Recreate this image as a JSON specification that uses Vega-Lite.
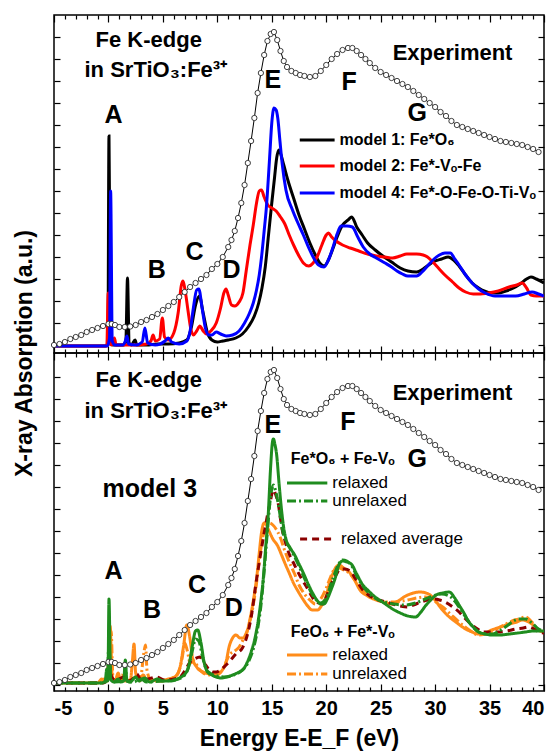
{
"$schema":"https://vega.github.io/schema/vega-lite/v6.json",
"autosize":{"type":"pad"},
"padding":{"left":12,"top":13,"right":16,"bottom":3},
"spacing":0,
"bounds":"flush",
"config":{"font":"Liberation Sans","view":{"stroke":"black","strokeWidth":1.5},"concat":{"spacing":0},
 "axis":{"domain":false,"grid":false,"labels":false,"tickColor":"black","tickWidth":1.2,"title":null}},
"datasets":{
"exp":[{"E":-5,"v":8},{"E":-4.5,"v":9},{"E":-4,"v":11},{"E":-3.5,"v":14},{"E":-3,"v":16},{"E":-2.5,"v":18},{"E":-2,"v":21},{"E":-1.5,"v":23},{"E":-1,"v":25},{"E":-0.5,"v":27},{"E":0,"v":29},{"E":0.3,"v":29},{"E":0.6,"v":28},{"E":1,"v":26},{"E":1.5,"v":26},{"E":2,"v":26.5},{"E":2.5,"v":28},{"E":3,"v":31},{"E":3.5,"v":33},{"E":4,"v":36},{"E":4.5,"v":39},{"E":5,"v":43},{"E":5.5,"v":47},{"E":6,"v":51},{"E":6.5,"v":56},{"E":7,"v":61},{"E":7.5,"v":66},{"E":8,"v":70},{"E":8.5,"v":74},{"E":9,"v":78},{"E":9.5,"v":84},{"E":10,"v":89},{"E":10.5,"v":96},{"E":11,"v":106},{"E":11.3,"v":113},{"E":11.6,"v":122},{"E":11.9,"v":135},{"E":12.2,"v":150},{"E":12.5,"v":168},{"E":12.8,"v":190},{"E":13.1,"v":212},{"E":13.4,"v":235},{"E":13.7,"v":260},{"E":14,"v":280},{"E":14.3,"v":298},{"E":14.6,"v":312},{"E":14.9,"v":319},{"E":15.2,"v":321},{"E":15.5,"v":313},{"E":15.8,"v":302},{"E":16.1,"v":292},{"E":16.4,"v":286},{"E":16.8,"v":282},{"E":17.2,"v":280},{"E":17.6,"v":278},{"E":18,"v":277},{"E":18.5,"v":276},{"E":19,"v":277},{"E":19.5,"v":282},{"E":20,"v":288},{"E":20.5,"v":294},{"E":21,"v":299},{"E":21.5,"v":303},{"E":22,"v":305},{"E":22.4,"v":305},{"E":22.8,"v":302},{"E":23.2,"v":298},{"E":23.6,"v":294},{"E":24,"v":290},{"E":24.5,"v":285},{"E":25,"v":281},{"E":25.5,"v":278},{"E":26,"v":275},{"E":26.5,"v":272},{"E":27,"v":269},{"E":27.5,"v":266},{"E":28,"v":262},{"E":28.5,"v":258},{"E":29,"v":254},{"E":29.5,"v":250},{"E":30,"v":246},{"E":30.5,"v":241},{"E":31,"v":237},{"E":31.5,"v":232},{"E":32,"v":228},{"E":32.5,"v":226},{"E":33,"v":224},{"E":33.5,"v":222},{"E":34,"v":220},{"E":34.5,"v":218},{"E":35,"v":216},{"E":35.5,"v":214},{"E":36,"v":212},{"E":36.5,"v":211},{"E":37,"v":210},{"E":37.5,"v":209},{"E":38,"v":208},{"E":38.5,"v":206},{"E":39,"v":204},{"E":39.5,"v":201}],
"top":[
{"s":"m1","E":-5,"v":7},{"s":"m1","E":-0.3,"v":7},{"s":"m1","E":-0.05,"v":10},{"s":"m1","E":0.05,"v":217},{"s":"m1","E":0.2,"v":10},{"s":"m1","E":0.4,"v":8},{"s":"m1","E":1.4,"v":8},{"s":"m1","E":1.6,"v":12},{"s":"m1","E":1.75,"v":75},{"s":"m1","E":1.9,"v":10},{"s":"m1","E":2.1,"v":8},{"s":"m1","E":2.45,"v":13},{"s":"m1","E":2.6,"v":8},{"s":"m1","E":3.5,"v":8},{"s":"m1","E":4.5,"v":9},{"s":"m1","E":5.5,"v":9},{"s":"m1","E":6.5,"v":10},{"s":"m1","E":7.2,"v":13},{"s":"m1","E":7.6,"v":25},{"s":"m1","E":8,"v":48},{"s":"m1","E":8.35,"v":57},{"s":"m1","E":8.7,"v":40},{"s":"m1","E":9.1,"v":20},{"s":"m1","E":9.5,"v":13},{"s":"m1","E":10,"v":11},{"s":"m1","E":10.5,"v":12},{"s":"m1","E":11,"v":13},{"s":"m1","E":11.7,"v":15},{"s":"m1","E":12.3,"v":19},{"s":"m1","E":12.9,"v":27},{"s":"m1","E":13.4,"v":37},{"s":"m1","E":13.8,"v":50},{"s":"m1","E":14.1,"v":65},{"s":"m1","E":14.4,"v":86},{"s":"m1","E":14.7,"v":118},{"s":"m1","E":15,"v":150},{"s":"m1","E":15.25,"v":175},{"s":"m1","E":15.45,"v":195},{"s":"m1","E":15.65,"v":203},{"s":"m1","E":15.85,"v":198},{"s":"m1","E":16.1,"v":188},{"s":"m1","E":16.5,"v":172},{"s":"m1","E":17,"v":155},{"s":"m1","E":17.5,"v":138},{"s":"m1","E":18,"v":124},{"s":"m1","E":18.5,"v":110},{"s":"m1","E":19,"v":98},{"s":"m1","E":19.4,"v":90},{"s":"m1","E":19.8,"v":87},{"s":"m1","E":20.2,"v":93},{"s":"m1","E":20.6,"v":104},{"s":"m1","E":21,"v":116},{"s":"m1","E":21.5,"v":128},{"s":"m1","E":22,"v":133},{"s":"m1","E":22.35,"v":136},{"s":"m1","E":22.8,"v":126},{"s":"m1","E":23.3,"v":118},{"s":"m1","E":23.8,"v":110},{"s":"m1","E":24.5,"v":103},{"s":"m1","E":25.2,"v":97},{"s":"m1","E":26,"v":91},{"s":"m1","E":26.8,"v":85},{"s":"m1","E":27.5,"v":82},{"s":"m1","E":28.3,"v":81},{"s":"m1","E":28.9,"v":84},{"s":"m1","E":29.4,"v":88},{"s":"m1","E":30,"v":92},{"s":"m1","E":30.6,"v":94},{"s":"m1","E":31.2,"v":96},{"s":"m1","E":31.7,"v":93},{"s":"m1","E":32.2,"v":87},{"s":"m1","E":32.8,"v":78},{"s":"m1","E":33.4,"v":70},{"s":"m1","E":34,"v":65},{"s":"m1","E":34.5,"v":62},{"s":"m1","E":35.2,"v":60},{"s":"m1","E":35.8,"v":60},{"s":"m1","E":36.5,"v":62},{"s":"m1","E":37.2,"v":65},{"s":"m1","E":37.8,"v":69},{"s":"m1","E":38.4,"v":74},{"s":"m1","E":38.8,"v":76},{"s":"m1","E":39.3,"v":74},{"s":"m1","E":40,"v":70},
{"s":"m2","E":-5,"v":7},{"s":"m2","E":-0.15,"v":7},{"s":"m2","E":-0.02,"v":60},{"s":"m2","E":0.1,"v":9},{"s":"m2","E":0.3,"v":8},{"s":"m2","E":0.55,"v":15},{"s":"m2","E":0.7,"v":8},{"s":"m2","E":1.5,"v":8},{"s":"m2","E":2.5,"v":8},{"s":"m2","E":3.5,"v":9},{"s":"m2","E":3.9,"v":12},{"s":"m2","E":4.1,"v":18},{"s":"m2","E":4.3,"v":12},{"s":"m2","E":4.7,"v":14},{"s":"m2","E":4.95,"v":35},{"s":"m2","E":5.15,"v":16},{"s":"m2","E":5.5,"v":13},{"s":"m2","E":6,"v":20},{"s":"m2","E":6.4,"v":40},{"s":"m2","E":6.7,"v":68},{"s":"m2","E":6.85,"v":72},{"s":"m2","E":7.05,"v":62},{"s":"m2","E":7.3,"v":43},{"s":"m2","E":7.55,"v":25},{"s":"m2","E":7.8,"v":18},{"s":"m2","E":8.1,"v":22},{"s":"m2","E":8.4,"v":27},{"s":"m2","E":8.7,"v":22},{"s":"m2","E":9,"v":19},{"s":"m2","E":9.4,"v":22},{"s":"m2","E":9.9,"v":30},{"s":"m2","E":10.3,"v":45},{"s":"m2","E":10.6,"v":60},{"s":"m2","E":10.8,"v":64},{"s":"m2","E":11,"v":58},{"s":"m2","E":11.3,"v":48},{"s":"m2","E":11.6,"v":47},{"s":"m2","E":12,"v":51},{"s":"m2","E":12.35,"v":60},{"s":"m2","E":12.65,"v":82},{"s":"m2","E":13,"v":108},{"s":"m2","E":13.3,"v":128},{"s":"m2","E":13.6,"v":150},{"s":"m2","E":13.85,"v":162},{"s":"m2","E":14.05,"v":163},{"s":"m2","E":14.3,"v":156},{"s":"m2","E":14.64,"v":148},{"s":"m2","E":15,"v":145},{"s":"m2","E":15.4,"v":142},{"s":"m2","E":15.8,"v":136},{"s":"m2","E":16.2,"v":129},{"s":"m2","E":16.6,"v":118},{"s":"m2","E":17,"v":108},{"s":"m2","E":17.5,"v":97},{"s":"m2","E":17.9,"v":90},{"s":"m2","E":18.4,"v":87},{"s":"m2","E":18.8,"v":90},{"s":"m2","E":19.2,"v":97},{"s":"m2","E":19.6,"v":108},{"s":"m2","E":20,"v":118},{"s":"m2","E":20.2,"v":120},{"s":"m2","E":20.5,"v":116},{"s":"m2","E":20.9,"v":112},{"s":"m2","E":21.5,"v":108},{"s":"m2","E":22.2,"v":105},{"s":"m2","E":23,"v":102},{"s":"m2","E":23.8,"v":99},{"s":"m2","E":24.6,"v":97},{"s":"m2","E":25.4,"v":96},{"s":"m2","E":26.1,"v":95},{"s":"m2","E":26.8,"v":97},{"s":"m2","E":27.4,"v":99},{"s":"m2","E":28.3,"v":99},{"s":"m2","E":28.9,"v":98},{"s":"m2","E":29.3,"v":96},{"s":"m2","E":29.8,"v":91},{"s":"m2","E":30.3,"v":85},{"s":"m2","E":30.9,"v":78},{"s":"m2","E":31.6,"v":71},{"s":"m2","E":32.2,"v":65},{"s":"m2","E":32.8,"v":61},{"s":"m2","E":33.5,"v":59},{"s":"m2","E":34,"v":59},{"s":"m2","E":34.9,"v":60},{"s":"m2","E":35.8,"v":62},{"s":"m2","E":36.8,"v":66},{"s":"m2","E":37.5,"v":68},{"s":"m2","E":38,"v":70},{"s":"m2","E":38.4,"v":65},{"s":"m2","E":38.8,"v":58},{"s":"m2","E":39.3,"v":57},{"s":"m2","E":40,"v":57},
{"s":"m4","E":-5,"v":7},{"s":"m4","E":-0.1,"v":7},{"s":"m4","E":0.1,"v":15},{"s":"m4","E":0.2,"v":162},{"s":"m4","E":0.35,"v":12},{"s":"m4","E":0.6,"v":8},{"s":"m4","E":1.3,"v":8},{"s":"m4","E":1.55,"v":12},{"s":"m4","E":1.7,"v":17},{"s":"m4","E":1.85,"v":9},{"s":"m4","E":2.5,"v":8},{"s":"m4","E":3.1,"v":11},{"s":"m4","E":3.35,"v":25},{"s":"m4","E":3.6,"v":10},{"s":"m4","E":4.3,"v":8},{"s":"m4","E":5.2,"v":12},{"s":"m4","E":5.5,"v":15},{"s":"m4","E":5.8,"v":11},{"s":"m4","E":6.5,"v":9},{"s":"m4","E":7.2,"v":12},{"s":"m4","E":7.5,"v":22},{"s":"m4","E":7.8,"v":45},{"s":"m4","E":8.1,"v":63},{"s":"m4","E":8.3,"v":64},{"s":"m4","E":8.6,"v":45},{"s":"m4","E":8.9,"v":25},{"s":"m4","E":9.2,"v":18},{"s":"m4","E":9.5,"v":18},{"s":"m4","E":9.9,"v":21},{"s":"m4","E":10.3,"v":19},{"s":"m4","E":10.8,"v":17},{"s":"m4","E":11.4,"v":18},{"s":"m4","E":12,"v":22},{"s":"m4","E":12.5,"v":30},{"s":"m4","E":12.96,"v":40},{"s":"m4","E":13.3,"v":50},{"s":"m4","E":13.6,"v":63},{"s":"m4","E":13.85,"v":78},{"s":"m4","E":14.05,"v":95},{"s":"m4","E":14.3,"v":122},{"s":"m4","E":14.5,"v":145},{"s":"m4","E":14.8,"v":195},{"s":"m4","E":15,"v":230},{"s":"m4","E":15.2,"v":245},{"s":"m4","E":15.4,"v":243},{"s":"m4","E":15.55,"v":235},{"s":"m4","E":15.75,"v":212},{"s":"m4","E":15.95,"v":190},{"s":"m4","E":16.3,"v":163},{"s":"m4","E":16.9,"v":143},{"s":"m4","E":17.4,"v":130},{"s":"m4","E":17.9,"v":118},{"s":"m4","E":18.4,"v":105},{"s":"m4","E":18.9,"v":94},{"s":"m4","E":19.3,"v":88},{"s":"m4","E":19.8,"v":86},{"s":"m4","E":20.2,"v":93},{"s":"m4","E":20.6,"v":105},{"s":"m4","E":21,"v":119},{"s":"m4","E":21.35,"v":127},{"s":"m4","E":21.9,"v":127},{"s":"m4","E":22.4,"v":126},{"s":"m4","E":22.9,"v":116},{"s":"m4","E":23.4,"v":106},{"s":"m4","E":24,"v":99},{"s":"m4","E":24.6,"v":95},{"s":"m4","E":25.4,"v":90},{"s":"m4","E":26,"v":86},{"s":"m4","E":26.5,"v":82},{"s":"m4","E":27,"v":79},{"s":"m4","E":27.5,"v":77},{"s":"m4","E":28.3,"v":77},{"s":"m4","E":28.8,"v":81},{"s":"m4","E":29.3,"v":87},{"s":"m4","E":29.9,"v":94},{"s":"m4","E":30.4,"v":98},{"s":"m4","E":30.9,"v":100},{"s":"m4","E":31.4,"v":100},{"s":"m4","E":31.8,"v":94},{"s":"m4","E":32.2,"v":88},{"s":"m4","E":32.8,"v":78},{"s":"m4","E":33.4,"v":70},{"s":"m4","E":34,"v":64},{"s":"m4","E":34.6,"v":60},{"s":"m4","E":35.5,"v":57},{"s":"m4","E":36.5,"v":57},{"s":"m4","E":37.4,"v":57},{"s":"m4","E":38.2,"v":59},{"s":"m4","E":38.9,"v":61},{"s":"m4","E":39.5,"v":59},{"s":"m4","E":40,"v":57}],
"bot":[
{"s":"o_rel","E":-5,"v":8},{"s":"o_rel","E":-1,"v":8},{"s":"o_rel","E":-0.6,"v":12},{"s":"o_rel","E":-0.4,"v":9},{"s":"o_rel","E":-0.05,"v":20},{"s":"o_rel","E":0.15,"v":65},{"s":"o_rel","E":0.35,"v":14},{"s":"o_rel","E":0.6,"v":10},{"s":"o_rel","E":0.9,"v":18},{"s":"o_rel","E":1.1,"v":10},{"s":"o_rel","E":1.5,"v":12},{"s":"o_rel","E":2,"v":10},{"s":"o_rel","E":2.2,"v":30},{"s":"o_rel","E":2.35,"v":47},{"s":"o_rel","E":2.5,"v":18},{"s":"o_rel","E":2.8,"v":12},{"s":"o_rel","E":3.2,"v":16},{"s":"o_rel","E":3.5,"v":11},{"s":"o_rel","E":4,"v":11},{"s":"o_rel","E":4.8,"v":10},{"s":"o_rel","E":5.5,"v":12},{"s":"o_rel","E":6.2,"v":15},{"s":"o_rel","E":6.6,"v":25},{"s":"o_rel","E":6.9,"v":45},{"s":"o_rel","E":7.2,"v":66},{"s":"o_rel","E":7.45,"v":55},{"s":"o_rel","E":7.75,"v":32},{"s":"o_rel","E":8.1,"v":24},{"s":"o_rel","E":8.7,"v":19},{"s":"o_rel","E":9.3,"v":17},{"s":"o_rel","E":9.9,"v":16},{"s":"o_rel","E":10.4,"v":20},{"s":"o_rel","E":10.8,"v":29},{"s":"o_rel","E":11.1,"v":45},{"s":"o_rel","E":11.35,"v":52},{"s":"o_rel","E":11.7,"v":56},{"s":"o_rel","E":12.1,"v":53},{"s":"o_rel","E":12.4,"v":53},{"s":"o_rel","E":12.7,"v":58},{"s":"o_rel","E":13,"v":72},{"s":"o_rel","E":13.3,"v":90},{"s":"o_rel","E":13.6,"v":112},{"s":"o_rel","E":13.85,"v":138},{"s":"o_rel","E":14.05,"v":158},{"s":"o_rel","E":14.3,"v":168},{"s":"o_rel","E":14.5,"v":166},{"s":"o_rel","E":14.75,"v":160},{"s":"o_rel","E":15.1,"v":152},{"s":"o_rel","E":15.55,"v":145},{"s":"o_rel","E":15.9,"v":136},{"s":"o_rel","E":16.2,"v":128},{"s":"o_rel","E":16.6,"v":118},{"s":"o_rel","E":16.95,"v":109},{"s":"o_rel","E":17.4,"v":100},{"s":"o_rel","E":17.85,"v":92},{"s":"o_rel","E":18.3,"v":85},{"s":"o_rel","E":18.7,"v":81},{"s":"o_rel","E":19.2,"v":81},{"s":"o_rel","E":19.6,"v":86},{"s":"o_rel","E":20,"v":95},{"s":"o_rel","E":20.3,"v":108},{"s":"o_rel","E":20.6,"v":117},{"s":"o_rel","E":20.9,"v":124},{"s":"o_rel","E":21.2,"v":126},{"s":"o_rel","E":21.6,"v":123},{"s":"o_rel","E":22.1,"v":119},{"s":"o_rel","E":22.6,"v":111},{"s":"o_rel","E":23.1,"v":101},{"s":"o_rel","E":23.8,"v":95},{"s":"o_rel","E":24.6,"v":91},{"s":"o_rel","E":25.3,"v":89},{"s":"o_rel","E":26,"v":87},{"s":"o_rel","E":26.6,"v":90},{"s":"o_rel","E":27.3,"v":95},{"s":"o_rel","E":28,"v":98},{"s":"o_rel","E":28.6,"v":99},{"s":"o_rel","E":29.4,"v":97},{"s":"o_rel","E":29.9,"v":92},{"s":"o_rel","E":30.6,"v":82},{"s":"o_rel","E":31.2,"v":75},{"s":"o_rel","E":31.9,"v":69},{"s":"o_rel","E":32.8,"v":62},{"s":"o_rel","E":33.4,"v":59},{"s":"o_rel","E":34,"v":57},{"s":"o_rel","E":34.6,"v":58},{"s":"o_rel","E":35.2,"v":61},{"s":"o_rel","E":36,"v":64},{"s":"o_rel","E":36.8,"v":67},{"s":"o_rel","E":37.5,"v":69},{"s":"o_rel","E":38,"v":71},{"s":"o_rel","E":38.6,"v":69},{"s":"o_rel","E":39,"v":66},{"s":"o_rel","E":39.5,"v":61},{"s":"o_rel","E":40,"v":59},
{"s":"o_unrel","E":-5,"v":8},{"s":"o_unrel","E":-0.8,"v":8},{"s":"o_unrel","E":-0.4,"v":12},{"s":"o_unrel","E":-0.1,"v":10},{"s":"o_unrel","E":0.1,"v":35},{"s":"o_unrel","E":0.25,"v":60},{"s":"o_unrel","E":0.4,"v":16},{"s":"o_unrel","E":0.7,"v":10},{"s":"o_unrel","E":1.2,"v":16},{"s":"o_unrel","E":1.5,"v":10},{"s":"o_unrel","E":2,"v":11},{"s":"o_unrel","E":2.5,"v":14},{"s":"o_unrel","E":2.9,"v":10},{"s":"o_unrel","E":3.25,"v":38},{"s":"o_unrel","E":3.4,"v":46},{"s":"o_unrel","E":3.55,"v":20},{"s":"o_unrel","E":3.9,"v":11},{"s":"o_unrel","E":4.5,"v":10},{"s":"o_unrel","E":5.2,"v":11},{"s":"o_unrel","E":5.9,"v":13},{"s":"o_unrel","E":6.4,"v":18},{"s":"o_unrel","E":6.8,"v":35},{"s":"o_unrel","E":7,"v":48},{"s":"o_unrel","E":7.25,"v":40},{"s":"o_unrel","E":7.5,"v":28},{"s":"o_unrel","E":7.9,"v":30},{"s":"o_unrel","E":8.2,"v":24},{"s":"o_unrel","E":8.7,"v":18},{"s":"o_unrel","E":9.3,"v":16},{"s":"o_unrel","E":10,"v":17},{"s":"o_unrel","E":10.6,"v":24},{"s":"o_unrel","E":11.1,"v":36},{"s":"o_unrel","E":11.6,"v":40},{"s":"o_unrel","E":12,"v":44},{"s":"o_unrel","E":12.35,"v":51},{"s":"o_unrel","E":12.8,"v":62},{"s":"o_unrel","E":13.2,"v":80},{"s":"o_unrel","E":13.6,"v":108},{"s":"o_unrel","E":13.9,"v":135},{"s":"o_unrel","E":14.2,"v":155},{"s":"o_unrel","E":14.5,"v":164},{"s":"o_unrel","E":14.8,"v":168},{"s":"o_unrel","E":15.1,"v":166},{"s":"o_unrel","E":15.5,"v":160},{"s":"o_unrel","E":15.8,"v":153},{"s":"o_unrel","E":16.2,"v":140},{"s":"o_unrel","E":16.6,"v":129},{"s":"o_unrel","E":17.1,"v":117},{"s":"o_unrel","E":17.5,"v":106},{"s":"o_unrel","E":18,"v":97},{"s":"o_unrel","E":18.5,"v":91},{"s":"o_unrel","E":19,"v":87},{"s":"o_unrel","E":19.5,"v":92},{"s":"o_unrel","E":19.97,"v":102},{"s":"o_unrel","E":20.4,"v":114},{"s":"o_unrel","E":20.8,"v":122},{"s":"o_unrel","E":21.2,"v":123},{"s":"o_unrel","E":21.6,"v":121},{"s":"o_unrel","E":22.1,"v":118},{"s":"o_unrel","E":22.7,"v":110},{"s":"o_unrel","E":23.3,"v":101},{"s":"o_unrel","E":24,"v":95},{"s":"o_unrel","E":24.7,"v":91},{"s":"o_unrel","E":25.5,"v":89},{"s":"o_unrel","E":26.3,"v":89},{"s":"o_unrel","E":27,"v":90},{"s":"o_unrel","E":27.5,"v":91},{"s":"o_unrel","E":28.3,"v":93},{"s":"o_unrel","E":29.1,"v":94},{"s":"o_unrel","E":29.7,"v":92},{"s":"o_unrel","E":30.3,"v":87},{"s":"o_unrel","E":30.7,"v":84},{"s":"o_unrel","E":31.4,"v":77},{"s":"o_unrel","E":32.2,"v":69},{"s":"o_unrel","E":33,"v":62},{"s":"o_unrel","E":34,"v":56},{"s":"o_unrel","E":34.9,"v":58},{"s":"o_unrel","E":35.8,"v":63},{"s":"o_unrel","E":36.7,"v":68},{"s":"o_unrel","E":37.3,"v":71},{"s":"o_unrel","E":37.7,"v":72},{"s":"o_unrel","E":38.3,"v":74},{"s":"o_unrel","E":38.8,"v":70},{"s":"o_unrel","E":39.5,"v":61},{"s":"o_unrel","E":40,"v":59},
{"s":"avg","E":-5,"v":8},{"s":"avg","E":-0.5,"v":8},{"s":"avg","E":-0.15,"v":12},{"s":"avg","E":0.05,"v":29},{"s":"avg","E":0.3,"v":14},{"s":"avg","E":0.7,"v":10},{"s":"avg","E":1,"v":12},{"s":"avg","E":1.4,"v":14},{"s":"avg","E":1.8,"v":10},{"s":"avg","E":2.3,"v":13},{"s":"avg","E":2.6,"v":17},{"s":"avg","E":3,"v":11},{"s":"avg","E":3.6,"v":12},{"s":"avg","E":4.4,"v":14},{"s":"avg","E":5.2,"v":11},{"s":"avg","E":6,"v":12},{"s":"avg","E":6.6,"v":14},{"s":"avg","E":7,"v":20},{"s":"avg","E":7.5,"v":29},{"s":"avg","E":7.9,"v":32},{"s":"avg","E":8.4,"v":34},{"s":"avg","E":8.8,"v":28},{"s":"avg","E":9.2,"v":22},{"s":"avg","E":9.6,"v":19},{"s":"avg","E":9.9,"v":19},{"s":"avg","E":10.4,"v":22},{"s":"avg","E":10.8,"v":26},{"s":"avg","E":11.3,"v":32},{"s":"avg","E":11.7,"v":37},{"s":"avg","E":12.3,"v":43},{"s":"avg","E":12.8,"v":58},{"s":"avg","E":13.2,"v":80},{"s":"avg","E":13.5,"v":104},{"s":"avg","E":13.9,"v":132},{"s":"avg","E":14.3,"v":158},{"s":"avg","E":14.8,"v":186},{"s":"avg","E":15.15,"v":201},{"s":"avg","E":15.4,"v":195},{"s":"avg","E":15.6,"v":187},{"s":"avg","E":15.8,"v":172},{"s":"avg","E":16,"v":159},{"s":"avg","E":16.3,"v":147},{"s":"avg","E":16.6,"v":137},{"s":"avg","E":17,"v":128},{"s":"avg","E":17.4,"v":119},{"s":"avg","E":17.8,"v":111},{"s":"avg","E":18.2,"v":104},{"s":"avg","E":18.6,"v":96},{"s":"avg","E":18.9,"v":91},{"s":"avg","E":19.3,"v":88},{"s":"avg","E":19.7,"v":87},{"s":"avg","E":20.1,"v":97},{"s":"avg","E":20.5,"v":108},{"s":"avg","E":20.9,"v":116},{"s":"avg","E":21.3,"v":122},{"s":"avg","E":21.7,"v":122},{"s":"avg","E":22.2,"v":120},{"s":"avg","E":22.7,"v":112},{"s":"avg","E":23.3,"v":102},{"s":"avg","E":23.9,"v":96},{"s":"avg","E":24.8,"v":91},{"s":"avg","E":25.5,"v":89},{"s":"avg","E":26.1,"v":87},{"s":"avg","E":26.8,"v":85},{"s":"avg","E":27.4,"v":84},{"s":"avg","E":28,"v":86},{"s":"avg","E":28.7,"v":89},{"s":"avg","E":29.3,"v":91},{"s":"avg","E":29.8,"v":92},{"s":"avg","E":30.4,"v":91},{"s":"avg","E":30.9,"v":89},{"s":"avg","E":31.5,"v":85},{"s":"avg","E":32.2,"v":79},{"s":"avg","E":32.8,"v":72},{"s":"avg","E":33.4,"v":66},{"s":"avg","E":33.9,"v":62},{"s":"avg","E":34.4,"v":59},{"s":"avg","E":35.1,"v":59},{"s":"avg","E":35.8,"v":59},{"s":"avg","E":36.6,"v":60},{"s":"avg","E":37.4,"v":62},{"s":"avg","E":38.1,"v":63},{"s":"avg","E":38.6,"v":64},{"s":"avg","E":39.1,"v":62},{"s":"avg","E":39.5,"v":59},{"s":"avg","E":40,"v":58},
{"s":"g_unrel","E":-5,"v":8},{"s":"g_unrel","E":-0.4,"v":8},{"s":"g_unrel","E":-0.1,"v":14},{"s":"g_unrel","E":0.05,"v":50},{"s":"g_unrel","E":0.2,"v":12},{"s":"g_unrel","E":0.5,"v":9},{"s":"g_unrel","E":1.4,"v":10},{"s":"g_unrel","E":1.55,"v":24},{"s":"g_unrel","E":1.7,"v":10},{"s":"g_unrel","E":2.3,"v":9},{"s":"g_unrel","E":3,"v":12},{"s":"g_unrel","E":3.5,"v":9},{"s":"g_unrel","E":5,"v":10},{"s":"g_unrel","E":6,"v":11},{"s":"g_unrel","E":6.8,"v":14},{"s":"g_unrel","E":7.3,"v":22},{"s":"g_unrel","E":7.7,"v":40},{"s":"g_unrel","E":8,"v":52},{"s":"g_unrel","E":8.3,"v":50},{"s":"g_unrel","E":8.6,"v":36},{"s":"g_unrel","E":8.9,"v":24},{"s":"g_unrel","E":9.3,"v":18},{"s":"g_unrel","E":10,"v":15},{"s":"g_unrel","E":10.8,"v":14},{"s":"g_unrel","E":11.5,"v":16},{"s":"g_unrel","E":12.2,"v":20},{"s":"g_unrel","E":12.8,"v":28},{"s":"g_unrel","E":13.3,"v":42},{"s":"g_unrel","E":13.7,"v":62},{"s":"g_unrel","E":14,"v":85},{"s":"g_unrel","E":14.3,"v":120},{"s":"g_unrel","E":14.6,"v":160},{"s":"g_unrel","E":14.9,"v":195},{"s":"g_unrel","E":15.15,"v":206},{"s":"g_unrel","E":15.4,"v":198},{"s":"g_unrel","E":15.7,"v":180},{"s":"g_unrel","E":16,"v":160},{"s":"g_unrel","E":16.3,"v":150},{"s":"g_unrel","E":16.7,"v":142},{"s":"g_unrel","E":17.2,"v":132},{"s":"g_unrel","E":17.7,"v":120},{"s":"g_unrel","E":18.2,"v":108},{"s":"g_unrel","E":18.7,"v":97},{"s":"g_unrel","E":19.1,"v":91},{"s":"g_unrel","E":19.5,"v":88},{"s":"g_unrel","E":19.9,"v":91},{"s":"g_unrel","E":20.3,"v":102},{"s":"g_unrel","E":20.7,"v":115},{"s":"g_unrel","E":21.1,"v":126},{"s":"g_unrel","E":21.5,"v":131},{"s":"g_unrel","E":21.9,"v":130},{"s":"g_unrel","E":22.4,"v":124},{"s":"g_unrel","E":22.9,"v":113},{"s":"g_unrel","E":23.5,"v":103},{"s":"g_unrel","E":24,"v":97},{"s":"g_unrel","E":24.6,"v":92},{"s":"g_unrel","E":25.3,"v":89},{"s":"g_unrel","E":26.2,"v":87},{"s":"g_unrel","E":27.3,"v":86},{"s":"g_unrel","E":28.2,"v":88},{"s":"g_unrel","E":29.1,"v":92},{"s":"g_unrel","E":29.8,"v":95},{"s":"g_unrel","E":30.6,"v":97},{"s":"g_unrel","E":31.3,"v":95},{"s":"g_unrel","E":31.8,"v":90},{"s":"g_unrel","E":32.2,"v":84},{"s":"g_unrel","E":32.8,"v":74},{"s":"g_unrel","E":33.4,"v":65},{"s":"g_unrel","E":34,"v":59},{"s":"g_unrel","E":34.7,"v":57},{"s":"g_unrel","E":35.3,"v":57},{"s":"g_unrel","E":35.9,"v":60},{"s":"g_unrel","E":36.7,"v":66},{"s":"g_unrel","E":37.2,"v":70},{"s":"g_unrel","E":37.7,"v":72},{"s":"g_unrel","E":38.3,"v":72},{"s":"g_unrel","E":38.9,"v":68},{"s":"g_unrel","E":39.5,"v":62},{"s":"g_unrel","E":40,"v":60},
{"s":"g_rel","E":-5,"v":8},{"s":"g_rel","E":-0.6,"v":8},{"s":"g_rel","E":-0.3,"v":10},{"s":"g_rel","E":-0.15,"v":22},{"s":"g_rel","E":-0.05,"v":10},{"s":"g_rel","E":0.05,"v":92},{"s":"g_rel","E":0.2,"v":12},{"s":"g_rel","E":0.5,"v":9},{"s":"g_rel","E":0.9,"v":12},{"s":"g_rel","E":1.1,"v":9},{"s":"g_rel","E":1.4,"v":10},{"s":"g_rel","E":1.55,"v":31},{"s":"g_rel","E":1.7,"v":10},{"s":"g_rel","E":2,"v":9},{"s":"g_rel","E":2.5,"v":14},{"s":"g_rel","E":2.8,"v":10},{"s":"g_rel","E":3.3,"v":13},{"s":"g_rel","E":3.8,"v":9},{"s":"g_rel","E":4.5,"v":12},{"s":"g_rel","E":5,"v":10},{"s":"g_rel","E":5.7,"v":10},{"s":"g_rel","E":6.5,"v":13},{"s":"g_rel","E":7.1,"v":18},{"s":"g_rel","E":7.4,"v":26},{"s":"g_rel","E":7.7,"v":45},{"s":"g_rel","E":8,"v":60},{"s":"g_rel","E":8.2,"v":61},{"s":"g_rel","E":8.5,"v":48},{"s":"g_rel","E":8.8,"v":28},{"s":"g_rel","E":9.1,"v":19},{"s":"g_rel","E":9.5,"v":16},{"s":"g_rel","E":9.9,"v":14},{"s":"g_rel","E":10.4,"v":13},{"s":"g_rel","E":10.8,"v":14},{"s":"g_rel","E":11.4,"v":16},{"s":"g_rel","E":12,"v":19},{"s":"g_rel","E":12.4,"v":22},{"s":"g_rel","E":12.8,"v":30},{"s":"g_rel","E":13.1,"v":39},{"s":"g_rel","E":13.5,"v":55},{"s":"g_rel","E":13.75,"v":70},{"s":"g_rel","E":14,"v":90},{"s":"g_rel","E":14.2,"v":110},{"s":"g_rel","E":14.45,"v":145},{"s":"g_rel","E":14.65,"v":172},{"s":"g_rel","E":14.9,"v":225},{"s":"g_rel","E":15.05,"v":248},{"s":"g_rel","E":15.15,"v":252},{"s":"g_rel","E":15.3,"v":246},{"s":"g_rel","E":15.45,"v":236},{"s":"g_rel","E":15.65,"v":210},{"s":"g_rel","E":15.85,"v":186},{"s":"g_rel","E":16.1,"v":163},{"s":"g_rel","E":16.3,"v":152},{"s":"g_rel","E":16.7,"v":143},{"s":"g_rel","E":17.1,"v":136},{"s":"g_rel","E":17.5,"v":127},{"s":"g_rel","E":17.9,"v":118},{"s":"g_rel","E":18.3,"v":108},{"s":"g_rel","E":18.8,"v":97},{"s":"g_rel","E":19.2,"v":90},{"s":"g_rel","E":19.5,"v":87},{"s":"g_rel","E":19.8,"v":87},{"s":"g_rel","E":20.1,"v":92},{"s":"g_rel","E":20.4,"v":100},{"s":"g_rel","E":20.8,"v":112},{"s":"g_rel","E":21.2,"v":127},{"s":"g_rel","E":21.5,"v":130},{"s":"g_rel","E":21.9,"v":129},{"s":"g_rel","E":22.3,"v":127},{"s":"g_rel","E":22.8,"v":117},{"s":"g_rel","E":23.3,"v":107},{"s":"g_rel","E":23.9,"v":100},{"s":"g_rel","E":24.5,"v":94},{"s":"g_rel","E":25.3,"v":88},{"s":"g_rel","E":26.1,"v":82},{"s":"g_rel","E":26.8,"v":78},{"s":"g_rel","E":27.5,"v":75},{"s":"g_rel","E":28.2,"v":74},{"s":"g_rel","E":28.7,"v":79},{"s":"g_rel","E":29.1,"v":85},{"s":"g_rel","E":29.6,"v":91},{"s":"g_rel","E":30.1,"v":96},{"s":"g_rel","E":30.7,"v":98},{"s":"g_rel","E":31.3,"v":99},{"s":"g_rel","E":31.8,"v":93},{"s":"g_rel","E":32.2,"v":86},{"s":"g_rel","E":32.7,"v":77},{"s":"g_rel","E":33.1,"v":69},{"s":"g_rel","E":33.6,"v":63},{"s":"g_rel","E":34,"v":59},{"s":"g_rel","E":34.6,"v":57},{"s":"g_rel","E":35.2,"v":56},{"s":"g_rel","E":36,"v":56},{"s":"g_rel","E":36.8,"v":57},{"s":"g_rel","E":37.6,"v":58},{"s":"g_rel","E":38.3,"v":59},{"s":"g_rel","E":39,"v":60},{"s":"g_rel","E":40,"v":60}],
"topleg":[{"s":"m1","x1":17.57,"x2":20.77,"y":213,"t":"model 1: Fe*O₆"},{"s":"m2","x1":17.57,"x2":20.77,"y":187,"t":"model 2: Fe*-Vₒ-Fe"},{"s":"m4","x1":17.57,"x2":20.77,"y":160,"t":"model 4: Fe*-O-Fe-O-Ti-Vₒ"}],
"botleg":[{"s":"g_rel","x1":16.4,"x2":20.1,"y":208,"t":"relaxed"},{"s":"g_unrel","x1":16.4,"x2":20.1,"y":190,"t":"unrelaxed"},{"s":"avg","x1":17.6,"x2":20.9,"y":152,"t":"relaxed average"},{"s":"o_rel","x1":16.4,"x2":20.1,"y":36,"t":"relaxed"},{"s":"o_unrel","x1":16.4,"x2":20.1,"y":17,"t":"unrelaxed"}]
},
"resolve":{"scale":{"color":"independent","strokeDash":"independent"}},
"vconcat":[
{"width":490,"height":338,
 "resolve":{"axis":{"x":"independent","y":"independent"}},
 "layer":[
  {"data":{"name":"exp"},"mark":{"type":"line","color":"black","strokeWidth":1},
   "encoding":{"x":{"field":"E","type":"quantitative","scale":{"domain":[-5,40],"nice":false,"zero":false},"axis":{"orient":"bottom","values":[-5,0,5,10,15,20,25,30,35,40],"tickSize":-7}},
    "y":{"field":"v","type":"quantitative","scale":{"domain":[0,338],"nice":false,"zero":false},"axis":{"orient":"left","values":[8,30,52,74,96,118,140,162,184,206,228,250,272,294,316],"tickSize":-6,"title":"X-ray Absorption (a.u.)","titleX":-30,"titleY":338,"titleAngle":270,"titleAlign":"center","titleBaseline":"middle","titleFontSize":23,"titleFontWeight":"bold","titleColor":"black"}}}},
  {"data":{"name":"top"},"mark":{"type":"line","strokeWidth":3,"interpolate":"monotone","clip":true},
   "encoding":{"x":{"field":"E","type":"quantitative","axis":{"orient":"bottom","values":[-4,-3,-2,-1,1,2,3,4,6,7,8,9,11,12,13,14,16,17,18,19,21,22,23,24,26,27,28,29,31,32,33,34,36,37,38,39],"tickSize":-4}},
    "y":{"field":"v","type":"quantitative","axis":null},
    "color":{"field":"s","type":"nominal","scale":{"domain":["m1","m2","m4"],"range":["#000000","#ff0000","#0000ff"]},"legend":null}}},
  {"data":{"name":"exp"},"mark":{"type":"point","filled":true,"fill":"white","stroke":"#111111","strokeWidth":0.8,"size":28,"opacity":1},
   "encoding":{"x":{"field":"E","type":"quantitative","axis":{"orient":"top","values":[-5,0,5,10,15,20,25,30,35,40],"tickSize":-7}},
    "y":{"field":"v","type":"quantitative","axis":{"orient":"right","values":[8,30,52,74,96,118,140,162,184,206,228,250,272,294,316],"tickSize":-6}}}},
  {"data":{"name":"topleg"},"mark":{"type":"rule","strokeWidth":3},
   "encoding":{"x":{"field":"x1","type":"quantitative","axis":{"orient":"top","values":[-4,-3,-2,-1,1,2,3,4,6,7,8,9,11,12,13,14,16,17,18,19,21,22,23,24,26,27,28,29,31,32,33,34,36,37,38,39],"tickSize":-4}},"x2":{"field":"x2"},
    "y":{"field":"y","type":"quantitative","axis":null},
    "color":{"field":"s","type":"nominal","legend":null}}},
  {"data":{"name":"topleg"},"mark":{"type":"text","align":"left","baseline":"middle","fontSize":16,"fontWeight":"bold","color":"black","dx":5},
   "encoding":{"x":{"field":"x2","type":"quantitative","axis":null},"y":{"field":"y","type":"quantitative","axis":null},"text":{"field":"t"}}},
  {"data":{"values":[{"E":0.46,"v":238,"t":"A"},{"E":4.44,"v":83,"t":"B"},{"E":7.9,"v":101,"t":"C"},{"E":11.3,"v":83,"t":"D"},{"E":15.1,"v":273,"t":"E"},{"E":22.1,"v":271,"t":"F"},{"E":28.36,"v":240,"t":"G"}]},
   "mark":{"type":"text","align":"center","baseline":"middle","fontSize":25,"fontWeight":"bold","color":"black"},
   "encoding":{"x":{"field":"E","type":"quantitative","axis":null},"y":{"field":"v","type":"quantitative","axis":null},"text":{"field":"t"}}},
  {"data":{"values":[{"E":3.7,"v":313,"t":"Fe K-edge"},{"E":4.35,"v":283,"t":"in SrTiO₃:Fe³⁺"},{"E":31.6,"v":300,"t":"Experiment"}]},
   "mark":{"type":"text","align":"center","baseline":"middle","fontSize":22,"fontWeight":"bold","color":"black"},
   "encoding":{"x":{"field":"E","type":"quantitative","axis":null},"y":{"field":"v","type":"quantitative","axis":null},"text":{"field":"t"}}}
 ]},
{"width":490,"height":338,
 "resolve":{"axis":{"x":"independent","y":"independent"}},
 "layer":[
  {"data":{"name":"exp"},"mark":{"type":"line","color":"black","strokeWidth":1},
   "encoding":{"x":{"field":"E","type":"quantitative","scale":{"domain":[-5,40],"nice":false,"zero":false},"axis":{"orient":"bottom","values":[-5,0,5,10,15,20,25,30,35,40],"tickSize":-7,"labels":true,"labelExpr":"'' + datum.value","labelFontSize":20,"labelFontWeight":"bold","labelColor":"black","labelPadding":14,"title":"Energy E-E_F (eV)","titleFontSize":23,"titleFontWeight":"bold","titleColor":"black","titlePadding":9}},
    "y":{"field":"v","type":"quantitative","scale":{"domain":[0,338],"nice":false,"zero":false},"axis":{"orient":"left","values":[6,28,50,72,94,116,138,160,182,204,226,248,270,292,314],"tickSize":-6}}}},
  {"data":{"name":"bot"},"mark":{"type":"line","strokeWidth":3,"interpolate":"monotone","clip":true},
   "encoding":{"x":{"field":"E","type":"quantitative","axis":{"orient":"bottom","values":[-4,-3,-2,-1,1,2,3,4,6,7,8,9,11,12,13,14,16,17,18,19,21,22,23,24,26,27,28,29,31,32,33,34,36,37,38,39],"tickSize":-4}},
    "y":{"field":"v","type":"quantitative","axis":null},
    "color":{"field":"s","type":"nominal","scale":{"domain":["g_rel","g_unrel","avg","o_rel","o_unrel"],"range":["#1f8c1f","#1f8c1f","#8b0000","#ff8c1a","#ff8c1a"]},"legend":null},
    "strokeDash":{"field":"s","type":"nominal","scale":{"domain":["g_rel","g_unrel","avg","o_rel","o_unrel"],"range":[[1,0],[9,3,2,3],[7,5],[1,0],[9,3,2,3]]},"legend":null}}},
  {"data":{"name":"exp"},"mark":{"type":"point","filled":true,"fill":"white","stroke":"#111111","strokeWidth":0.8,"size":28,"opacity":1},
   "encoding":{"x":{"field":"E","type":"quantitative","axis":{"orient":"top","values":[-5,0,5,10,15,20,25,30,35,40],"tickSize":-7}},
    "y":{"field":"v","type":"quantitative","axis":{"orient":"right","values":[6,28,50,72,94,116,138,160,182,204,226,248,270,292,314],"tickSize":-6}}}},
  {"data":{"name":"botleg"},"mark":{"type":"rule","strokeWidth":3},
   "encoding":{"x":{"field":"x1","type":"quantitative","axis":{"orient":"top","values":[-4,-3,-2,-1,1,2,3,4,6,7,8,9,11,12,13,14,16,17,18,19,21,22,23,24,26,27,28,29,31,32,33,34,36,37,38,39],"tickSize":-4}},"x2":{"field":"x2"},
    "y":{"field":"y","type":"quantitative","axis":null},
    "color":{"field":"s","type":"nominal","legend":null},
    "strokeDash":{"field":"s","type":"nominal","legend":null}}},
  {"data":{"name":"botleg"},"mark":{"type":"text","align":"left","baseline":"middle","fontSize":17,"color":"black","dx":5},
   "encoding":{"x":{"field":"x2","type":"quantitative","axis":null},"y":{"field":"y","type":"quantitative","axis":null},"text":{"field":"t"}}},
  {"data":{"values":[{"E":16.75,"v":232,"t":"Fe*O₆ + Fe-Vₒ"},{"E":16.75,"v":59,"t":"FeO₆ + Fe*-Vₒ"}]},
   "mark":{"type":"text","align":"left","baseline":"middle","fontSize":16,"fontWeight":"bold","color":"black"},
   "encoding":{"x":{"field":"E","type":"quantitative","axis":null},"y":{"field":"v","type":"quantitative","axis":null},"text":{"field":"t"}}},
  {"data":{"values":[{"E":0.46,"v":120.5,"t":"A"},{"E":4.0,"v":81.5,"t":"B"},{"E":8.14,"v":106.5,"t":"C"},{"E":11.5,"v":83,"t":"D"},{"E":15.1,"v":266,"t":"E"},{"E":22.0,"v":269,"t":"F"},{"E":28.36,"v":232,"t":"G"},{"E":3.8,"v":202,"t":"model 3"}]},
   "mark":{"type":"text","align":"center","baseline":"middle","fontSize":25,"fontWeight":"bold","color":"black"},
   "encoding":{"x":{"field":"E","type":"quantitative","axis":null},"y":{"field":"v","type":"quantitative","axis":null},"text":{"field":"t"}}},
  {"data":{"values":[{"E":3.7,"v":311,"t":"Fe K-edge"},{"E":4.35,"v":280,"t":"in SrTiO₃:Fe³⁺"},{"E":31.6,"v":298.5,"t":"Experiment"}]},
   "mark":{"type":"text","align":"center","baseline":"middle","fontSize":22,"fontWeight":"bold","color":"black"},
   "encoding":{"x":{"field":"E","type":"quantitative","axis":null},"y":{"field":"v","type":"quantitative","axis":null},"text":{"field":"t"}}}
 ]}
]
}
